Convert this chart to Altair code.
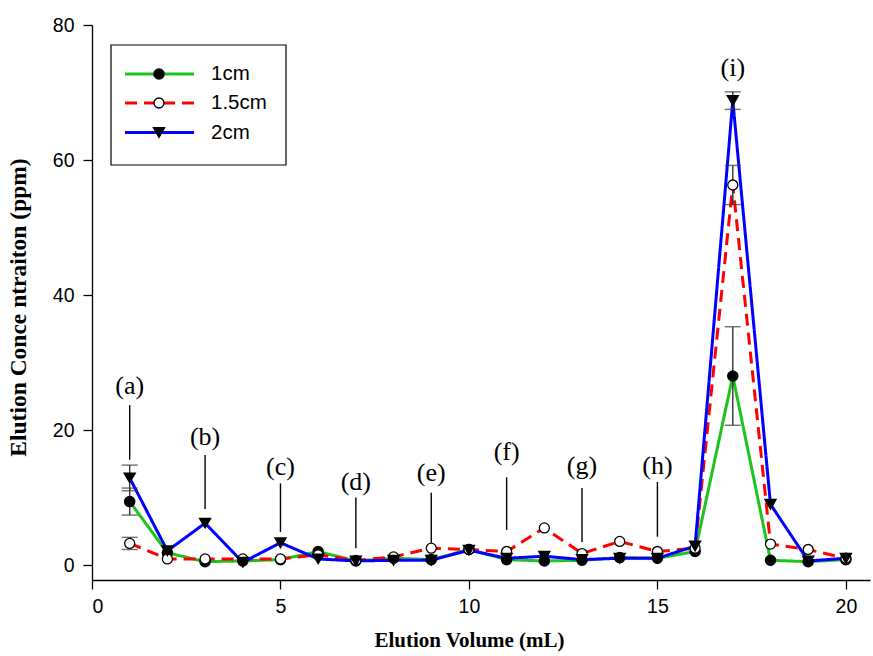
import altair as alt
import pandas as pd

# ---------------- data ----------------
volume = list(range(1, 21))
series_names = ["1cm", "1.5cm", "2cm"]
conc_1cm = [9.4, 1.8, 0.5, 0.6, 0.8, 2.0, 0.6, 1.0, 0.8, 2.3, 0.8, 0.6, 0.7, 1.1, 1.0, 2.0, 28.0, 0.7, 0.5, 0.8]
conc_15cm = [3.2, 0.9, 0.9, 0.9, 0.9, 1.5, 0.7, 1.2, 2.5, 2.3, 2.0, 5.5, 1.7, 3.5, 2.0, 2.5, 56.3, 3.1, 2.3, 1.0]
conc_2cm = [12.9, 2.1, 6.2, 0.4, 3.3, 0.9, 0.6, 0.7, 0.7, 2.2, 1.0, 1.3, 0.8, 1.0, 1.0, 2.8, 68.8, 9.0, 0.6, 1.0]
err_1cm = [2.0, 0, 0, 0, 0, 0, 0, 0, 0, 0, 0, 0, 0, 0, 0, 0, 7.3, 0, 0, 0]
err_15cm = [0.9, 0, 0, 0, 0, 0, 0, 0, 0, 0, 0, 0, 0, 0, 0, 0, 2.9, 0, 0, 0]
err_2cm = [1.9, 0, 0, 0, 0, 0, 0, 0, 0, 0, 0, 0, 0, 0, 0, 0, 1.3, 0, 0, 0]

ann_labels = ["(a)", "(b)", "(c)", "(d)", "(e)", "(f)", "(g)", "(h)", "(i)"]
ann_x = [1, 3, 5, 7, 9, 11, 13, 15, 17]
ann_text_y = [26.5, 19.0, 14.5, 12.3, 13.7, 16.8, 14.6, 14.6, 73.6]
ann_line_top = [23.7, 16.3, 12.1, 10.0, 10.7, 13.0, 11.4, 12.3, None]
ann_line_bottom = [15.6, 8.3, 4.9, 2.5, 3.3, 5.2, 3.4, 4.2, None]

# ---------------- styles ----------------
line_colors = {"1cm": "#1ec31e", "1.5cm": "#ff0000", "2cm": "#0000ff"}
dashes = {"1cm": [1, 0], "1.5cm": [12, 7], "2cm": [1, 0]}
shapes = {"1cm": "circle", "1.5cm": "circle", "2cm": "triangle-down"}
fills = {"1cm": "black", "1.5cm": "white", "2cm": "black"}
sizes = {"1cm": 105, "1.5cm": 100, "2cm": 125}

values = {"1cm": conc_1cm, "1.5cm": conc_15cm, "2cm": conc_2cm}
errors = {"1cm": err_1cm, "1.5cm": err_15cm, "2cm": err_2cm}

xscale = alt.Scale(domain=[0, 20.64], nice=False, zero=False)
yscale = alt.Scale(domain=[-2.22, 80], nice=False, zero=False)

xaxis = alt.Axis(values=[0, 5, 10, 15, 20], title="Elution Volume (mL)",
                 titleX=377, titleY=60, titleAlign="center", titleBaseline="middle",
                 titleFontSize=21, labelPadding=8)
yaxis = alt.Axis(values=[0, 20, 40, 60, 80], title="Elution Conce ntraiton (ppm)",
                 titleX=-74, titleY=282, titleAlign="center", titleBaseline="middle", titleAngle=-90,
                 titleFontSize=23.5, labelPadding=9)


def X(field):
    return alt.X(field, scale=xscale, axis=xaxis)


def Y(field):
    return alt.Y(field, scale=yscale, axis=yaxis)


layers = []
for name in series_names:
    df = pd.DataFrame({"x": volume, "y": values[name]})
    layers.append(
        alt.Chart(df).mark_line(color=line_colors[name], strokeWidth=3,
                                strokeDash=dashes[name]).encode(x=X("x:Q"), y=Y("y:Q"))
    )

for name in series_names:
    df = pd.DataFrame({"x": volume, "y": values[name], "e": errors[name]})
    df = df[df["e"] > 0].copy()
    df["lo"] = df["y"] - df["e"]
    df["hi"] = df["y"] + df["e"]
    base = alt.Chart(df)
    layers.append(base.mark_rule(color="#333333", strokeWidth=1.4).encode(
        x=X("x:Q"), y=Y("lo:Q"), y2="hi:Q"))
    layers.append(base.mark_tick(color="#333333", orient="horizontal", size=16, thickness=1.4).encode(
        x=X("x:Q"), y=Y("lo:Q")))
    layers.append(base.mark_tick(color="#333333", orient="horizontal", size=16, thickness=1.4).encode(
        x=X("x:Q"), y=Y("hi:Q")))

for name in series_names:
    df = pd.DataFrame({"x": volume, "y": values[name]})
    layers.append(
        alt.Chart(df).mark_point(shape=shapes[name], filled=True, fill=fills[name],
                                 stroke="black", strokeWidth=1.3, opacity=1,
                                 size=sizes[name]).encode(
            x=X("x:Q"), y=Y("y:Q"))
    )

ann = pd.DataFrame({"label": ann_labels, "x": ann_x, "ty": ann_text_y,
                    "top": ann_line_top, "bot": ann_line_bottom})
layers.append(alt.Chart(ann.dropna()).mark_rule(color="black", strokeWidth=1.4).encode(
    x=X("x:Q"), y=Y("top:Q"), y2="bot:Q"))
layers.append(alt.Chart(ann).mark_text(font="Liberation Serif", fontSize=26, color="black",
                                       baseline="middle").encode(
    x=X("x:Q"), y=Y("ty:Q"), text="label:N"))

# ---------------- legend (pixel layout) ----------------
one = pd.DataFrame({"k": [0]})
layers.append(alt.Chart(one).mark_rect(fill="white", stroke="black", strokeWidth=1.2).encode(
    x=alt.value(19), x2=alt.value(194), y=alt.value(20), y2=alt.value(140)))
rows_y = [49, 78, 107.5]
for name, ry in zip(series_names, rows_y):
    layers.append(alt.Chart(one).mark_rule(color=line_colors[name], strokeWidth=3,
                                           strokeDash=dashes[name]).encode(
        x=alt.value(33), x2=alt.value(102), y=alt.value(ry)))
    layers.append(alt.Chart(one).mark_point(shape=shapes[name], filled=True, fill=fills[name],
                                            stroke="black", strokeWidth=1.3, opacity=1,
                                            size=sizes[name]).encode(
        x=alt.value(67), y=alt.value(ry)))
    layers.append(alt.Chart(one).mark_text(font="Liberation Sans", fontSize=20.5, align="left",
                                           baseline="middle", color="black").encode(
        x=alt.value(119), y=alt.value(ry), text=alt.value(name)))

chart = alt.layer(*layers).properties(
    width=778, height=555,
    background="white",
    autosize=alt.AutoSizeParams(type="none"),
    padding={"left": 92, "top": 25, "right": 3, "bottom": 76},
).configure_view(stroke=None).configure_axis(
    grid=False, domainColor="black", domainWidth=1.3, tickColor="black", tickWidth=1.3,
    tickSize=9, labelFont="Liberation Sans", labelFontSize=19.5, labelColor="black",
    titleFont="Liberation Serif", titleFontWeight="bold", titleColor="black",
)

chart.save("out.html", embed_options={"renderer": "svg", "actions": False})
